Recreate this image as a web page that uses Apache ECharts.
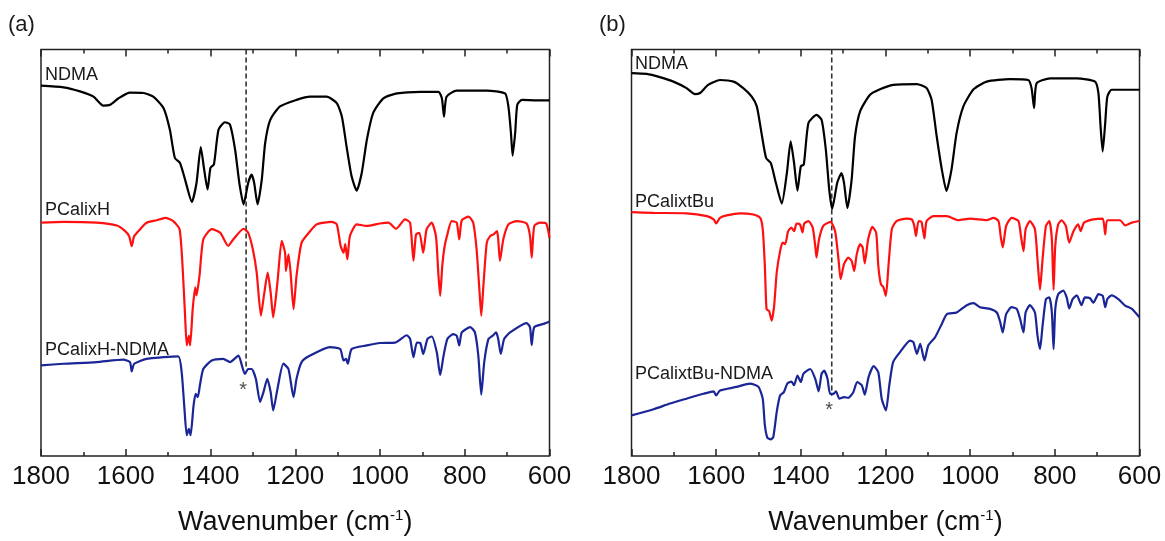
<!DOCTYPE html>
<html>
<head>
<meta charset="utf-8">
<script src="https://cdn.jsdelivr.net/npm/echarts@6/dist/echarts.min.js"></script>
<style>
	html, body { margin: 0; padding: 0; background: #fff; }
	#chart { width: 1165px; height: 541px; }
</style>
</head>
<body>
<div id="chart"></div>
<script>
// FTIR spectra, [wavenumber, offset transmittance (a.u.)]
const ndmaA = [[1800,91.1],[1747,90.7],[1708,89.7],[1676,88.4],[1653,86.2],[1637,86.4],[1617,88.0],[1590,89.4],[1558,89.3],[1535,88.4],[1511,85.6],[1496,80.3],[1484,73.3],[1472,72.1],[1460,68.0],[1444,62.5],[1433,67.2],[1423,76.0],[1415,70.5],[1407,65.6],[1400,70.9],[1392,71.7],[1381,80.3],[1366,82.1],[1354,81.5],[1342,75.4],[1332,67.2],[1322,61.9],[1311,67.2],[1303,69.2],[1297,67.2],[1289,61.9],[1279,68.0],[1271,77.0],[1259,82.7],[1236,86.0],[1197,87.6],[1165,88.4],[1126,88.4],[1102,86.8],[1090,83.5],[1079,76.2],[1067,68.8],[1055,65.3],[1043,69.7],[1031,77.8],[1016,84.4],[992,88.0],[960,89.2],[905,89.6],[862,89.6],[854,88.0],[849,83.5],[843,88.4],[819,89.9],[748,89.9],[705,89.2],[697,86.0],[691,79.5],[687,73.9],[681,79.5],[676,86.4],[665,87.6],[630,87.5],[600,87.5]];

const pcalixH = [[1800,57.4],[1747,57.6],[1669,57.4],[1621,56.7],[1602,55.4],[1592,54.1],[1586,51.6],[1580,54.1],[1566,55.8],[1551,57.4],[1527,58.0],[1507,58.6],[1488,57.8],[1473,55.8],[1466,46.8],[1460,34.5],[1456,27.2],[1451,29.6],[1448,27.2],[1442,36.2],[1436,41.5],[1433,39.5],[1426,44.3],[1417,53.3],[1397,55.8],[1377,54.9],[1358,51.7],[1346,53.3],[1322,55.9],[1311,54.9],[1300,50.8],[1291,45.1],[1281,34.5],[1274,39.4],[1265,45.1],[1258,40.2],[1252,34.1],[1242,42.7],[1232,52.9],[1224,50.0],[1222,45.5],[1216,49.6],[1211,45.1],[1204,36.1],[1197,44.3],[1185,52.5],[1165,55.3],[1149,57.0],[1114,57.6],[1102,57.0],[1093,51.7],[1086,50.0],[1082,52.1],[1077,48.4],[1071,54.1],[1055,57.0],[1031,56.6],[1000,57.2],[980,57.4],[962,55.9],[941,58.2],[929,57.4],[921,48.0],[915,54.5],[907,54.9],[898,50.0],[890,55.8],[878,57.4],[868,54.1],[862,44.3],[858,39.4],[853,46.8],[848,51.3],[842,54.1],[831,57.8],[819,57.4],[813,53.3],[807,58.0],[791,58.9],[780,57.4],[772,50.8],[765,40.2],[761,34.5],[756,41.9],[748,52.5],[740,54.1],[732,54.5],[724,55.3],[721,53.3],[717,48.0],[709,53.3],[697,57.0],[677,57.8],[654,57.2],[646,54.1],[642,48.8],[636,56.6],[622,57.4],[608,57.2],[600,53.7]];

const pcalixHNdma = [[1800,22.3],[1747,22.7],[1669,23.1],[1606,23.7],[1590,23.1],[1586,20.8],[1580,22.7],[1551,23.9],[1511,24.3],[1476,24.5],[1468,20.6],[1462,12.4],[1456,5.1],[1451,6.7],[1447,5.1],[1440,12.4],[1435,15.3],[1430,14.5],[1425,17.4],[1417,21.4],[1397,23.5],[1370,23.9],[1354,23.1],[1334,24.7],[1326,22.3],[1319,20.2],[1311,21.4],[1303,21.4],[1293,19.0],[1283,13.3],[1275,15.7],[1266,19.0],[1258,15.7],[1252,11.2],[1242,16.5],[1228,22.7],[1216,21.4],[1204,14.5],[1197,19.0],[1185,23.1],[1165,24.7],[1118,26.8],[1094,26.3],[1086,23.5],[1080,23.9],[1076,22.7],[1067,26.3],[1031,27.2],[1000,27.8],[964,27.9],[937,29.7],[929,28.8],[921,24.3],[913,27.9],[905,27.8],[898,25.1],[888,28.8],[878,29.4],[866,25.5],[858,19.9],[850,24.7],[841,28.8],[827,30.0],[819,29.6],[813,27.2],[807,30.4],[787,31.7],[776,30.4],[768,24.7],[761,15.1],[754,23.1],[744,28.8],[734,29.6],[726,30.4],[721,28.8],[715,25.1],[707,28.8],[693,30.4],[654,32.7],[646,31.7],[642,27.3],[636,31.7],[614,32.5],[600,33.1]];

const ndmaB = [[1800,94.2],[1764,94.0],[1733,93.2],[1701,92.1],[1670,90.5],[1650,89.0],[1638,89.3],[1619,91.3],[1591,92.5],[1559,92.1],[1536,90.5],[1516,88.4],[1504,86.0],[1493,79.5],[1482,73.3],[1471,72.1],[1459,67.2],[1445,62.1],[1433,69.6],[1424,77.4],[1416,72.1],[1408,65.3],[1400,71.3],[1393,71.7],[1382,81.9],[1363,83.9],[1351,82.7],[1341,75.4],[1333,65.6],[1326,60.8],[1314,67.2],[1304,69.6],[1298,67.2],[1290,61.0],[1280,68.0],[1272,78.6],[1260,84.8],[1237,88.8],[1213,90.2],[1182,91.3],[1126,91.5],[1103,90.5],[1091,87.6],[1079,78.6],[1067,70.5],[1056,65.2],[1044,70.5],[1032,79.5],[1016,86.0],[992,90.2],[961,92.1],[906,92.7],[863,92.5],[855,90.5],[849,85.6],[843,91.7],[811,92.9],[748,92.9],[705,92.1],[697,89.2],[692,81.1],[687,74.9],[681,81.9],[676,88.4],[666,90.1],[630,90.1],[600,90.1]];

const pcalixtBu = [[1800,60.0],[1748,59.8],[1670,59.7],[1622,59.0],[1606,58.2],[1600,57.2],[1591,58.6],[1575,59.2],[1544,59.7],[1512,59.4],[1496,58.6],[1490,55.8],[1485,46.8],[1481,36.1],[1475,35.7],[1469,33.3],[1463,37.0],[1457,45.1],[1449,50.4],[1443,52.5],[1437,52.1],[1430,55.3],[1422,56.2],[1416,55.3],[1410,57.2],[1402,57.0],[1396,55.0],[1392,57.2],[1382,57.8],[1372,56.2],[1366,51.7],[1363,48.8],[1357,53.3],[1347,56.6],[1330,57.6],[1319,55.3],[1311,48.4],[1306,43.5],[1298,47.2],[1288,48.8],[1280,48.0],[1274,45.5],[1268,49.6],[1260,52.1],[1254,51.3],[1249,47.4],[1241,53.3],[1231,56.4],[1222,54.9],[1217,46.8],[1211,42.3],[1205,41.5],[1199,39.4],[1193,46.8],[1185,55.8],[1174,57.8],[1150,58.4],[1138,58.2],[1132,56.6],[1128,54.1],[1122,57.8],[1115,57.6],[1108,53.5],[1103,57.8],[1087,59.0],[1055,59.0],[1028,58.0],[1000,58.4],[961,58.0],[945,58.6],[933,57.8],[928,54.1],[923,51.3],[915,56.6],[902,58.6],[886,57.8],[880,54.1],[874,50.4],[869,55.8],[859,57.8],[847,55.8],[841,48.4],[835,40.9],[829,48.4],[821,56.6],[813,57.8],[807,53.3],[803,40.9],[799,51.7],[792,57.0],[784,58.0],[774,56.6],[766,52.5],[756,55.3],[745,57.0],[739,55.3],[731,57.4],[709,58.2],[687,58.4],[681,54.5],[676,58.0],[646,58.0],[634,56.7],[618,57.4],[600,57.8]];

const pcalixtBuNdma = [[1800,10.0],[1748,11.5],[1709,12.9],[1670,14.1],[1630,15.3],[1606,15.9],[1600,14.9],[1591,16.1],[1552,17.0],[1520,17.8],[1500,17.0],[1490,14.1],[1485,7.6],[1479,4.5],[1471,4.1],[1465,4.7],[1457,10.8],[1449,14.9],[1440,15.7],[1432,17.8],[1422,18.3],[1416,17.4],[1408,19.8],[1400,18.2],[1394,20.2],[1378,21.4],[1366,19.0],[1358,15.9],[1351,20.2],[1345,21.0],[1337,19.0],[1331,15.3],[1323,15.3],[1317,15.9],[1309,14.1],[1298,14.5],[1288,14.3],[1276,15.7],[1267,18.2],[1256,17.4],[1249,15.1],[1240,19.4],[1228,22.1],[1217,20.6],[1209,14.1],[1199,11.2],[1191,17.4],[1182,23.1],[1166,25.5],[1142,28.4],[1134,28.0],[1126,25.1],[1118,27.6],[1108,23.5],[1099,27.2],[1083,29.2],[1067,32.5],[1055,34.9],[1032,35.3],[1008,37.1],[992,37.6],[977,36.6],[953,36.2],[937,35.3],[929,32.9],[923,30.4],[915,34.9],[902,36.6],[890,36.2],[882,33.7],[874,30.4],[869,35.3],[859,37.1],[847,35.3],[841,29.6],[835,26.3],[829,32.0],[821,38.6],[813,39.0],[807,35.3],[803,26.3],[799,36.1],[792,39.8],[780,40.7],[772,39.0],[766,36.3],[758,38.6],[748,39.5],[737,37.1],[729,39.0],[717,38.8],[709,37.7],[697,39.8],[687,39.4],[681,36.6],[676,38.6],[666,39.5],[650,38.6],[634,37.0],[618,36.2],[600,34.1]];

// dashed guide lines and asterisk markers [wavenumber, value]
const dashA = [[1316, 100], [1316, 21.6]];
const dashB = [[1327, 100], [1327, 14.8]];
const starA = [[1323, 16.0]];
const starB = [[1333, 11.1]];

const xTicks = { min: 600, max: 1800, interval: 200 };

const FONT = '"Liberation Sans", Arial, sans-serif';
const AXIS_COLOR = '#222';
const RED = '#ff1010';
const BLUE = '#1a2596';

const chart = echarts.init(document.getElementById('chart'));

const bottomAxis = (gridIndex) => ({
	type: 'value',
	gridIndex: gridIndex,
	position: 'bottom',
	inverse: true,
	min: xTicks.min,
	max: xTicks.max,
	interval: xTicks.interval,
	axisLine: { show: false },
	axisTick: { show: true, inside: true, length: 7, lineStyle: { color: AXIS_COLOR, width: 1.5 } },
	minorTick: { show: true, splitNumber: 2, length: 4, lineStyle: { color: AXIS_COLOR, width: 1.5 } },
	axisLabel: { color: '#111', fontSize: 26, fontFamily: FONT, margin: 8, formatter: (v) => String(v) },
	splitLine: { show: false },
	name: 'Wavenumber (cm{sup|-1})',
	nameLocation: 'middle',
	nameGap: 52,
	nameTextStyle: {
		color: '#111', fontSize: 27, fontFamily: FONT,
		rich: { sup: { fontSize: 15, fontFamily: FONT, color: '#111', padding: [0, 0, 14, 0] } }
	}
});

const topAxis = (gridIndex) => ({
	type: 'value',
	gridIndex: gridIndex,
	position: 'top',
	inverse: true,
	min: xTicks.min,
	max: xTicks.max,
	interval: xTicks.interval,
	axisLine: { show: false },
	axisTick: { show: true, inside: true, length: 7, lineStyle: { color: AXIS_COLOR, width: 1.5 } },
	minorTick: { show: true, splitNumber: 2, length: 4, lineStyle: { color: AXIS_COLOR, width: 1.5 } },
	axisLabel: { show: false },
	splitLine: { show: false }
});

const yAxisFor = (gridIndex) => ({
	type: 'value',
	gridIndex: gridIndex,
	min: 0,
	max: 100,
	axisLine: { show: false },
	axisTick: { show: false },
	axisLabel: { show: false },
	splitLine: { show: false }
});

const spectrum = (data, color, axisIndex) => ({
	type: 'line',
	data: data,
	xAxisIndex: axisIndex,
	yAxisIndex: axisIndex,
	showSymbol: false,
	smooth: 0.2,
	lineStyle: { color: color, width: 2.2 },
	silent: true,
	z: 3
});

const dashLine = (data, axisIndex) => ({
	type: 'line',
	data: data,
	xAxisIndex: axisIndex,
	yAxisIndex: axisIndex,
	showSymbol: false,
	lineStyle: { color: '#333', width: 1.6, type: [5, 3] },
	silent: true,
	z: 2
});

const star = (data, axisIndex) => ({
	type: 'scatter',
	data: data,
	xAxisIndex: axisIndex,
	yAxisIndex: axisIndex,
	symbolSize: 0,
	label: { show: true, position: 'inside', formatter: '*', fontSize: 20, fontFamily: FONT, color: '#222' },
	silent: true
});

const labelText = (text, x, y, size) => ({
	type: 'text',
	left: x,
	top: y,
	style: { text: text, fontSize: size, fontFamily: FONT, fill: '#1a1a1a' }
});

const option = {
	animation: false,
	backgroundColor: '#fff',
	grid: [
		{ left: 41, top: 49.5, width: 508.5, height: 408, show: true, borderColor: AXIS_COLOR, borderWidth: 1.5, containLabel: false },
		{ left: 631.5, top: 49.5, width: 508, height: 408, show: true, borderColor: AXIS_COLOR, borderWidth: 1.5, containLabel: false }
	],
	xAxis: [bottomAxis(0), bottomAxis(1), topAxis(0), topAxis(1)],
	yAxis: [yAxisFor(0), yAxisFor(1)],
	series: [
		spectrum(ndmaA, '#000', 0),
		spectrum(pcalixH, RED, 0),
		spectrum(pcalixHNdma, BLUE, 0),
		dashLine(dashA, 0),
		star(starA, 0),
		spectrum(ndmaB, '#000', 1),
		spectrum(pcalixtBu, RED, 1),
		spectrum(pcalixtBuNdma, BLUE, 1),
		dashLine(dashB, 1),
		star(starB, 1)
	],
	graphic: [
		labelText('(a)', 8, 14, 22),
		labelText('(b)', 599, 14, 22),
		labelText('NDMA', 45, 66, 18),
		labelText('PCalixH', 45, 201, 18),
		labelText('PCalixH-NDMA', 45, 341, 18),
		labelText('NDMA', 635, 55, 18),
		labelText('PCalixtBu', 635, 193, 18),
		labelText('PCalixtBu-NDMA', 635, 365, 18)
	]
};

chart.setOption(option);
</script>
</body>
</html>
